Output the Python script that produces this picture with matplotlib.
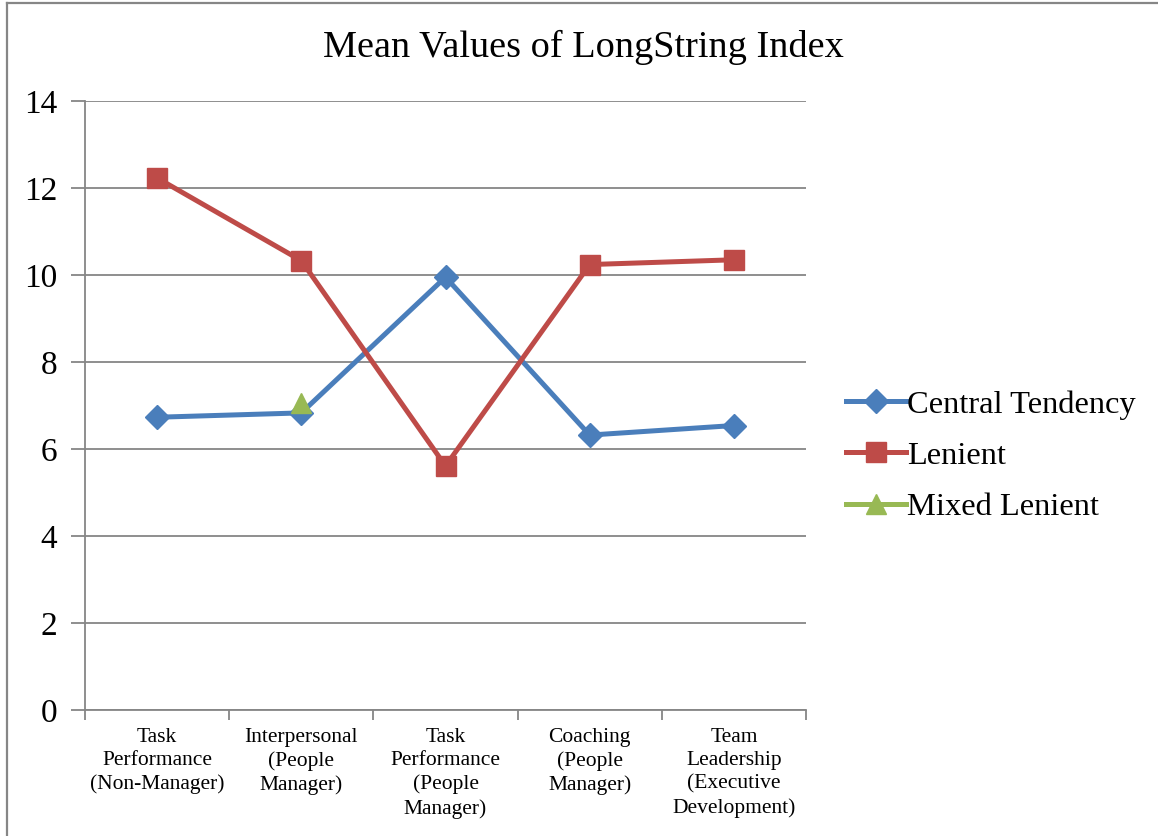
#!/usr/bin/env python3
"""Mean values of LongString index by rating category."""
import matplotlib
matplotlib.use('Agg')
import matplotlib.pyplot as plt
import numpy as np
from matplotlib.lines import Line2D

plt.rcParams['font.family'] = ['Liberation Serif', 'DejaVu Serif']

categories = ['Task\nPerformance\n(Non-Manager)', 'Interpersonal\n(People\nManager)',
              'Task\nPerformance\n(People\nManager)', 'Coaching\n(People\nManager)',
              'Team\nLeadership\n(Executive\nDevelopment)']
central = [6.73, 6.83, 9.95, 6.32, 6.54]
lenient = [12.23, 10.33, 5.61, 10.24, 10.35]
mixed = [np.nan, 7.06, np.nan, np.nan, np.nan]

W, H = 1158, 836
x = np.arange(len(categories))
fig = plt.figure(figsize=(W / 100, H / 100), dpi=100)
ax = fig.add_axes([85 / W, 1 - 710 / H, (806 - 85) / W, (710 - 101) / H])

ax.plot(x, central, '-D', color='#4A7EBB', lw=3.6, ms=12, label='Central Tendency', zorder=3)
ax.plot(x, lenient, '-s', color='#BE4B48', lw=3.6, ms=15, label='Lenient', zorder=3)
ax.plot(x, mixed, '-^', color='#98B954', lw=3.6, ms=15, label='Mixed Lenient', zorder=4)

ax.set_xlim(-0.5, 4.5)
ax.set_ylim(0, 14)
ax.set_yticks(range(0, 15, 2))
ax.yaxis.grid(True, color='#868686', lw=1.3)
ax.set_axisbelow(True)
ax.tick_params(axis='y', labelsize=24, length=10, width=1.3, color='#868686', pad=10)
ax.set_xticks(x)
ax.set_xticklabels(categories, fontsize=15.5, linespacing=1.3)
ax.set_xticks(np.arange(-0.5, 5, 1), minor=True)
ax.tick_params(axis='x', which='major', length=0, pad=13)
ax.tick_params(axis='x', which='minor', length=7, width=1.3, color='#868686')
for s in ['top', 'right']:
    ax.spines[s].set_visible(False)
for s in ['left', 'bottom']:
    ax.spines[s].set_color('#868686')
    ax.spines[s].set_linewidth(1.3)

fig.text(583 / W, 1 - 47 / H, 'Mean Values of LongString Index', ha='center', va='center',
         fontsize=27.5)
ax.legend(loc='center left', bbox_to_anchor=(833 / W, 1 - 456 / H),
          bbox_transform=fig.transFigure, frameon=False, fontsize=23.4,
          handlelength=1.85, handletextpad=0.02, labelspacing=0.66, borderaxespad=0)

# chart frame: only left and top edges are visible in the crop
fig.add_artist(Line2D([7.5 / W, 7.5 / W], [0, 1 - 2.5 / H], transform=fig.transFigure,
                      color='#868686', lw=1.6))
fig.add_artist(Line2D([7.5 / W, 1], [1 - 2.5 / H, 1 - 2.5 / H], transform=fig.transFigure,
                      color='#868686', lw=1.6))

fig.savefig('out.png', dpi=100)
plt.close(fig)
